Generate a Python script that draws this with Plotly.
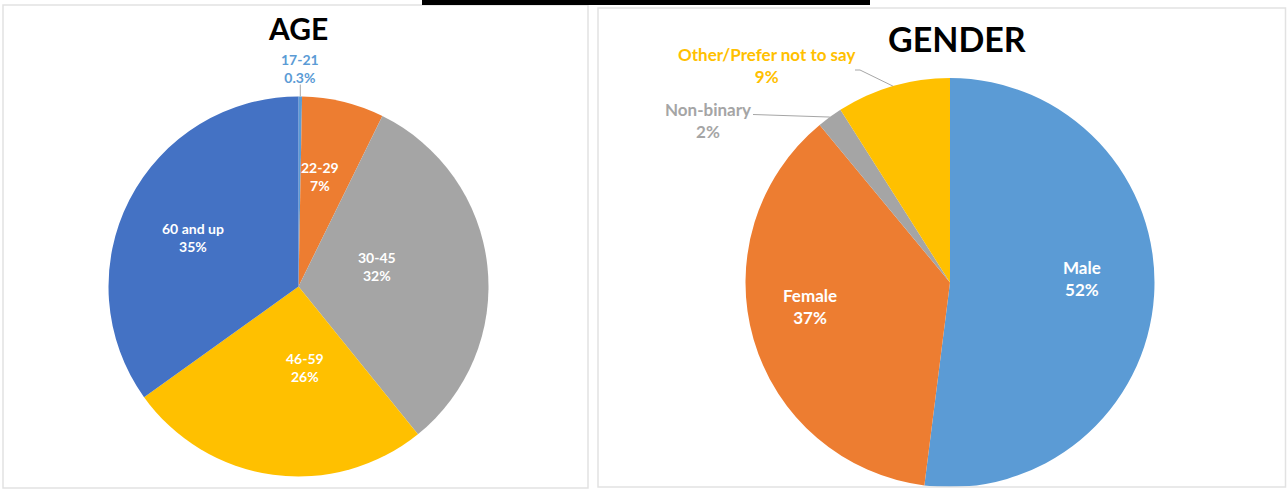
import math
import plotly.graph_objects as go

# ---------------- data ----------------
age_labels = ["17-21", "22-29", "30-45", "46-59", "60 and up"]
age_values = [0.3, 7, 32, 26, 35]
age_colors = ["#5B9BD5", "#ED7D31", "#A5A5A5", "#FFC000", "#4472C4"]

gender_labels = ["Male", "Female", "Non-binary", "Other/Prefer not to say"]
gender_values = [52, 37, 2, 9]
gender_colors = ["#5B9BD5", "#ED7D31", "#A5A5A5", "#FFC000"]

# ---------------- layout constants ----------------
W, H = 1287, 489
FONT = "Lato"

def fx(x):
    return x / W

def fy(y):
    return 1 - y / H

# pie geometry in pixels (center x, center y, radius)
AGE_C = (298.5, 286.5, 190)
GEN_C = (950.0, 282.5, 204.5)

# data-label placement (pixel centre of each label block)
AGE_LABEL_POS = [(300, 69), (320, 176), (377, 266), (305, 367), (193, 238)]
GEN_LABEL_POS = [(1082, 278.5), (810, 306), (708, 121), (766, 65)]
AGE_FONT, GEN_FONT = 14, 17

def domain(c):
    cx, cy, r = c
    return dict(x=[fx(cx - r), fx(cx + r)], y=[fy(cy + r), fy(cy - r)])

def edge_point(values, idx, c):
    cx, cy, r = c
    tot = sum(values)
    start = sum(values[:idx])
    mid = (start + values[idx] / 2) / tot * 2 * math.pi
    return cx + r * math.sin(mid), cy - r * math.cos(mid)

fig = go.Figure()

fig.add_trace(go.Pie(
    labels=age_labels, values=age_values, sort=False, direction="clockwise",
    marker=dict(colors=age_colors, line=dict(width=0)),
    textinfo="none",
    domain=domain(AGE_C), showlegend=False, hoverinfo="label+value",
))

fig.add_trace(go.Pie(
    labels=gender_labels, values=gender_values, sort=False, direction="clockwise",
    marker=dict(colors=gender_colors, line=dict(width=0)),
    textinfo="none",
    domain=domain(GEN_C), showlegend=False, hoverinfo="label+value",
))

shapes = []
annotations = []

# chart boxes
shapes.append(dict(type="rect", xref="paper", yref="paper",
                   x0=fx(3), x1=fx(588), y0=fy(488), y1=fy(5),
                   line=dict(color="#E2E2E2", width=1.5), fillcolor="rgba(0,0,0,0)"))
shapes.append(dict(type="rect", xref="paper", yref="paper",
                   x0=fx(598), x1=fx(1285.5), y0=fy(487), y1=fy(8),
                   line=dict(color="#E2E2E2", width=1.5), fillcolor="rgba(0,0,0,0)"))
# cropped black bar at the top
shapes.append(dict(type="rect", xref="paper", yref="paper",
                   x0=fx(422), x1=fx(870), y0=fy(5), y1=fy(0),
                   line=dict(width=0), fillcolor="black"))

# titles
annotations.append(dict(text="AGE", x=fx(298), y=fy(28), xref="paper", yref="paper",
                        showarrow=False, xanchor="center", yanchor="middle",
                        font=dict(family=FONT, size=30, color="black", weight="bold")))
annotations.append(dict(text="GENDER", x=fx(957), y=fy(38.5), xref="paper", yref="paper",
                        showarrow=False, xanchor="center", yanchor="middle",
                        font=dict(family=FONT, size=34, color="black", weight="bold")))

# data labels
for i, (lab, val) in enumerate(zip(age_labels, age_values)):
    px_, py_ = AGE_LABEL_POS[i]
    color = age_colors[0] if i == 0 else "white"
    annotations.append(dict(text=f"{lab}<br>{val:g}%", x=fx(px_), y=fy(py_),
                            xref="paper", yref="paper", showarrow=False,
                            xanchor="center", yanchor="middle",
                            font=dict(family=FONT, size=AGE_FONT, color=color, weight="bold")))

for i, (lab, val) in enumerate(zip(gender_labels, gender_values)):
    px_, py_ = GEN_LABEL_POS[i]
    color = gender_colors[i] if i >= 2 else "white"
    annotations.append(dict(text=f"{lab}<br>{val:g}%", x=fx(px_), y=fy(py_),
                            xref="paper", yref="paper", showarrow=False,
                            xanchor="center", yanchor="middle",
                            font=dict(family=FONT, size=GEN_FONT, color=color, weight="bold")))

# leader lines
ex, ey = edge_point(age_values, 0, AGE_C)
shapes.append(dict(type="line", xref="paper", yref="paper",
                   x0=fx(ex), y0=fy(ey), x1=fx(ex), y1=fy(ey - 12),
                   line=dict(color="#A6A6A6", width=1)))

ex, ey = edge_point(gender_values, 2, GEN_C)
shapes.append(dict(type="path", xref="paper", yref="paper",
                   path=f"M {fx(ex)} {fy(ey)} L {fx(753)} {fy(114.5)}",
                   line=dict(color="#A6A6A6", width=1)))

ex, ey = edge_point(gender_values, 3, GEN_C)
shapes.append(dict(type="path", xref="paper", yref="paper",
                   path=f"M {fx(ex)} {fy(ey)} L {fx(860)} {fy(70)} L {fx(855)} {fy(70)}",
                   line=dict(color="#A6A6A6", width=1)))

fig.update_layout(
    width=W, height=H,
    margin=dict(l=0, r=0, t=0, b=0),
    paper_bgcolor="white", plot_bgcolor="white",
    shapes=shapes, annotations=annotations,
    font=dict(family=FONT),
)

fig.write_html("out.html",
               config={"displayModeBar": False},
               post_script="document.body.style.margin='0';document.body.style.overflow='hidden';")
